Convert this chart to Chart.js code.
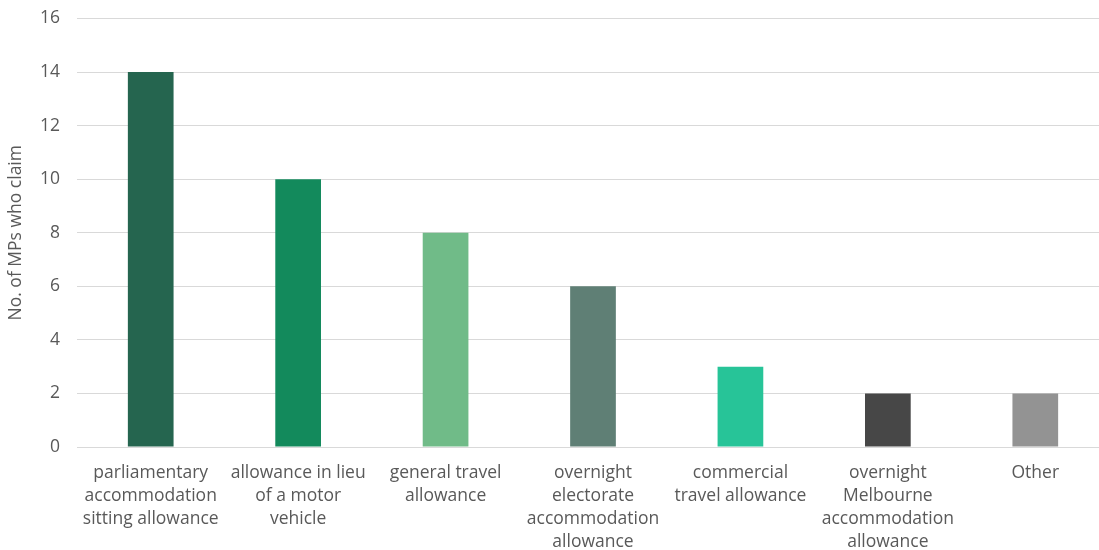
<!DOCTYPE html>
<html>
<head>
<meta charset="utf-8">
<script src="https://cdn.jsdelivr.net/npm/chart.js@4/dist/chart.umd.min.js"></script>
<style>
  html, body { margin: 0; padding: 0; background: #fff; overflow: hidden; }
  #wrap { width: 1109px; height: 559px; margin-top: -9px; position: relative; }
</style>
</head>
<body>
<div id="wrap"><canvas id="chart"></canvas></div>
<script>
// allowance types (wrapped the way they show under the axis)
const categories = [
    ['parliamentary', 'accommodation', 'sitting allowance'],
    ['allowance in lieu', 'of a motor', 'vehicle'],
    ['general travel', 'allowance'],
    ['overnight', 'electorate', 'accommodation', 'allowance'],
    ['commercial', 'travel allowance'],
    ['overnight', 'Melbourne', 'accommodation', 'allowance'],
    ['Other']
]
const mpCounts = [14, 10, 8, 6, 3, 2, 2]
const barColors = ['#25654f', '#138a5c', '#70bb88', '#5f7f75', '#27c498', '#474747', '#939393']
const yTicks = [0, 2, 4, 6, 8, 10, 12, 14, 16]

const textColor = '#595959'
const gridColor = '#d9d9d9'
const fontFamily = '"Open Sans", Lato, sans-serif'

window.onload = main

function main() {
    const ctx = document.getElementById('chart').getContext('2d')
    new Chart(ctx, {
        type: 'bar',
        data: {
            labels: categories,
            datasets: [{
                data: mpCounts,
                backgroundColor: barColors,
                borderWidth: 0,
                barPercentage: 0.31,
                categoryPercentage: 1
            }]
        },
        options: {
            responsive: true,
            maintainAspectRatio: false,
            animation: false,
            layout: { padding: 0 },
            plugins: {
                legend: { display: false },
                tooltip: { enabled: false }
            },
            scales: {
                x: {
                    grid: { display: false, drawTicks: false },
                    border: { display: true, color: gridColor, width: 1 },
                    ticks: {
                        color: textColor,
                        padding: 14,
                        maxRotation: 0,
                        autoSkip: false,
                        font: { family: fontFamily, size: 17.5, lineHeight: 1.33 }
                    },
                    afterFit: (scale) => { scale.height = 103 }
                },
                y: {
                    min: 0,
                    max: 16,
                    afterBuildTicks: (scale) => { scale.ticks = yTicks.map(v => ({ value: v })) },
                    grid: { color: gridColor, lineWidth: 1, drawTicks: false },
                    border: { display: false },
                    ticks: {
                        color: textColor,
                        padding: 17,
                        font: { family: fontFamily, size: 17.5 }
                    },
                    title: {
                        display: true,
                        text: 'No. of MPs who claim',
                        color: textColor,
                        padding: { top: 6, bottom: 0 },
                        font: { family: fontFamily, size: 17.5 }
                    },
                    afterFit: (scale) => { scale.width = 77 }
                }
            }
        }
    })
}
</script>
</body>
</html>
